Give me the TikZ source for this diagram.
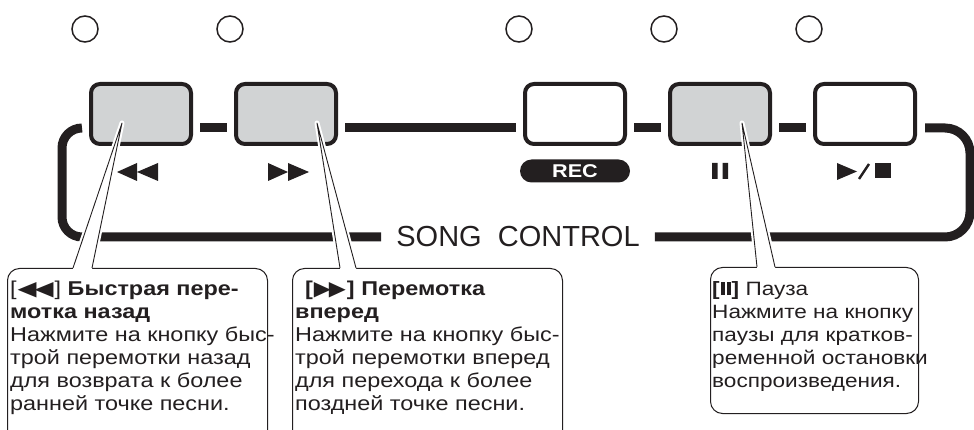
\documentclass[tikz,border=0pt]{standalone}
\usepackage{fontspec}
\usepackage{graphicx}
\setmainfont{Liberation Sans}
\newfontfamily\calloutfont[FakeStretch=1.17]{Liberation Sans}
\newfontfamily\glyphfont{DejaVu Sans}
\usetikzlibrary{positioning}
\definecolor{ink}{HTML}{231F20}
\definecolor{keygray}{HTML}{D1D3D4}
\newcommand{\revmark}{\kern1pt\resizebox{19pt}{13pt}{\glyphfont ◀}\kern-2pt\resizebox{19pt}{13pt}{\glyphfont ◀}\kern1pt}
\newcommand{\fwdmark}{\kern1pt\resizebox{17pt}{13pt}{\glyphfont ▶}\kern-2pt\resizebox{17pt}{13pt}{\glyphfont ▶}\kern1pt}
\newcommand{\pausemark}{\kern1pt\rule{4pt}{13pt}\kern2pt\rule{4pt}{13pt}\kern1pt}

\begin{document}
\begin{tikzpicture}[x=1pt, y=-1pt,
  led/.style={draw=ink, line width=1.5pt, circle, minimum size=26pt, inner sep=0pt},
  key/.style={draw=ink, fill=white, line width=4pt, rounded corners=9pt,
              minimum width=100pt, minimum height=60pt, inner sep=0pt},
  litkey/.style={key, fill=keygray},
  bus/.style={draw=ink, line width=9pt},
  recpill/.style={fill=ink, text=white, rounded corners=11.5pt, minimum width=110pt,
                  minimum height=23pt, inner sep=0pt,
                  font=\calloutfont\bfseries\fontsize{18.5}{18.5}\selectfont},
  callbox/.style={draw=ink, line width=1pt, rounded corners=12pt, fill=white,
                  inner sep=0pt, anchor=north west},
  calltext/.style={anchor=north west, inner sep=0pt, align=left, text=ink,
                   font=\calloutfont\fontsize{20}{23}\selectfont},
  halo/.style={draw=white, line width=5pt, line join=round},
  pointer/.style={draw=ink, line width=0.9pt, line join=round}
]
\useasboundingbox (0,0) rectangle (974,430);

% keys
\node[litkey] (rew) at (141,114) {};
\node[litkey, right=41pt of rew] (fwd) {};
\node[key, right=185pt of fwd] (rec) {};
\node[litkey, right=41pt of rec] (pause) {};
\node[key, right=41pt of pause] (play) {};

% lamps
\foreach \k in {rew,fwd,rec,pause,play}
  \node[led] (\k led) at ([shift={(-56,-85)}]\k.center) {};

% panel frame
\node[text=ink, inner xsep=15pt, font=\fontsize{29}{29}\selectfont] (title) at (518,237)
  {SONG\ \ CONTROL};
\draw[bus, rounded corners=20pt] ([shift={(-7,14)}]rew.west) -- (62,128) -- (62,237)
  -- (title.west);
\draw[bus, rounded corners=25pt] (title.east) -- (970,237) -- (970,128)
  -- ([shift={(8,14)}]play.east);
\foreach \a/\b in {rew/fwd, fwd/rec, rec/pause, pause/play}
  \draw[bus] ([shift={(7,14)}]\a.east) -- ([shift={(-7,14)}]\b.west);

% key legends
\fill[ink] (117,172) -- (137,163) -- (137,181) -- cycle
           (137,172) -- (158,163) -- (158,181) -- cycle;
\fill[ink] (268,163) -- (288,172) -- (268,181) -- cycle
           (288,163) -- (309,172) -- (288,181) -- cycle;
\node[recpill] (reclabel) at (575,171) {REC};
\fill[ink] (712,163) rectangle (717.5,179) (722.5,163) rectangle (728,179);
\fill[ink] (837,163) -- (857,171.5) -- (837,180) -- cycle;
\draw[ink, line width=2.4pt] (859,179) -- (869,164);
\fill[ink] (875,163) rectangle (891,178);

% callouts
\coordinate (rewtip) at (122,123);
\coordinate (rewl) at (73,268);
\coordinate (rewr) at (92,268);
\coordinate (fwdtip) at (317,123);
\coordinate (fwdl) at (340,268);
\coordinate (fwdr) at (356,268);
\coordinate (pausetip) at (742,123);
\coordinate (pausel) at (757,267);
\coordinate (pauser) at (775,267);
\foreach \k in {rew,fwd,pause}
  \draw[halo] (\k l) -- (\k tip) -- (\k r);

\node[callbox, minimum width=260pt, minimum height=175pt] (rewbox) at (7,268) {};
\node[callbox, minimum width=270pt, minimum height=175pt] (fwdbox) at (292,268) {};
\node[callbox, minimum width=208pt, minimum height=146pt] (pausebox) at (710,267) {};

\foreach \k in {rew,fwd,pause} {
  \fill[white] (\k tip) -- (\k l) -- ([shift={(0,3)}]\k l) -- ([shift={(0,3)}]\k r)
    -- (\k r) -- cycle;
  \draw[pointer] (\k l) -- (\k tip) -- (\k r);
}

\node[calltext] (rewtext) at (10,281)
  {[\revmark] \textbf{Быстрая пере-}\\
   \textbf{мотка назад}\\
   Нажмите на кнопку быс-\\
   трой перемотки назад\\
   для возврата к более\\
   ранней точке песни.};
\node[calltext] (fwdtext) at (295,281)
  {\hspace*{10pt}\textbf{[\fwdmark] Перемотка}\\
   \textbf{вперед}\\
   Нажмите на кнопку быс-\\
   трой перемотки вперед\\
   для перехода к более\\
   поздней точке песни.};
\node[calltext, font=\calloutfont\fontsize{19.3}{23}\selectfont] (pausetext) at (712,281)
  {\textbf{[}\pausemark\textbf{]} Пауза\\
   Нажмите на кнопку\\
   паузы для кратков-\\
   ременной остановки\\
   воспроизведения.};
\end{tikzpicture}
\end{document}
